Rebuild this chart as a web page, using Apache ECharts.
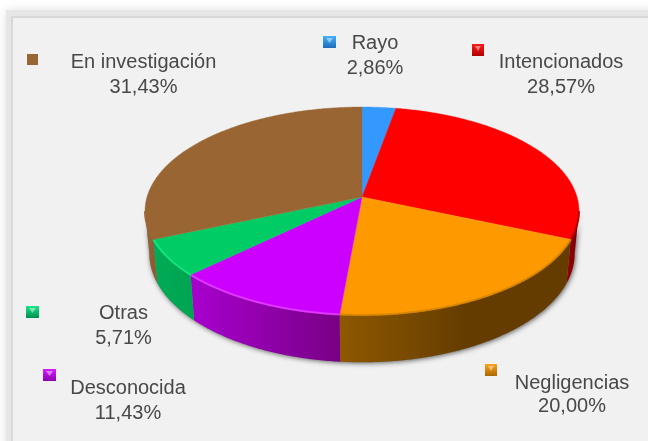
<!DOCTYPE html>
<html>
<head>
<meta charset="utf-8">
<style>html,body{margin:0;padding:0;background:#fff}#c{width:648px;height:441px}</style>
<script src="https://cdn.jsdelivr.net/npm/echarts@6/dist/echarts.min.js"></script>
</head>
<body>
<div id="c"></div>
<script>
var categories = ['Rayo', 'Intencionados', 'Negligencias', 'Desconocida', 'Otras', 'En investigación'];
var values = [2.86, 28.57, 20.00, 11.43, 5.71, 31.43];
var topColors = ['#3399ff', '#ff0000', '#ff9900', '#cc00ff', '#00cc66', '#996633'];
var wallLeft = ['#1f6fc0', '#8f0000', '#8e5800', '#a800cf', '#00ab55', '#93653a'];
var wallRight = ['#1f6fc0', '#7a0000', '#643c00', '#780085', '#00a552', '#8a5e33'];
var rimColors = ['#3399ff', '#b00000', '#d98600', '#e33cff', '#14e684', '#996633'];
var keyColors = [['#45b0ff', '#1d6cb8'], ['#ff1a1a', '#b00000'], ['#ffa31a', '#a96800'], ['#d81aff', '#8a00ad'], ['#1ae68a', '#008f4c'], ['#996633', '#996633']];
var labelPos = [[375, 43, 68], [561, 62, 87], [572, 383, 406], [128, 388, 413], [123.5, 313, 338], [143.5, 62, 87]];
var keyPos = [[323, 36, 13, 12], [472, 44, 12, 12], [485, 364, 12, 12], [43, 369, 13, 12], [26, 306, 13, 12], [27, 54, 11, 11]];

var apex = [362, 197], A = 215, B = 102.1, K = 0.1346;
function topPt(t) {
  var s = Math.sin(t), c = Math.cos(t), w = 1 + K * c;
  return [apex[0] + A * s / w, apex[1] - B * c / w];
}
function botPt(t) {
  var s = Math.sin(t), c = Math.cos(t), w = 1 + K * c;
  return [apex[0] + 0.98 * A * s / w, 239 - 1.045 * B * c / w];
}
var EXT = Math.acos(-K);
function arc(fn, a, b) {
  var n = Math.max(2, Math.ceil(Math.abs(b - a) / 0.01)), p = [];
  for (var i = 0; i <= n; i++) p.push(fn(a + (b - a) * i / n));
  return p;
}
var total = values.reduce(function (s, v) { return s + v; }, 0);
var spans = [], run = 0;
values.forEach(function (v) {
  var a = run / total * 2 * Math.PI; run += v;
  spans.push([a, run / total * 2 * Math.PI]);
});
function gradX(x1, x2, c1, c2) {
  return new echarts.graphic.LinearGradient(x1, 0, x2, 0, [{ offset: 0, color: c1 }, { offset: 1, color: c2 }], true);
}
function fmt(v) { return v.toFixed(2).replace('.', ',') + '%'; }

function renderShadow(params, api) {
  var i = api.value(0), kids = [];
  if (i === 0) {
    var sil = arc(topPt, EXT, 2 * Math.PI - EXT).concat(arc(botPt, 2 * Math.PI - EXT, EXT));
    kids.push({ type: 'polygon', shape: { points: sil }, style: { fill: '#888', shadowBlur: 5, shadowColor: 'rgba(60,60,60,0.8)', shadowOffsetX: 1, shadowOffsetY: 1 } });
  }
  return { type: 'group', children: kids };
}
function renderWalls(params, api) {
  var i = api.value(0), sp = spans[i];
  var a = Math.max(sp[0], EXT), b = Math.min(sp[1], 2 * Math.PI - EXT);
  if (a >= b) return { type: 'group', children: [] };
  var up = arc(topPt, a, b), lo = arc(botPt, b, a), xs = up.map(function (p) { return p[0]; });
  var rgt = Math.max.apply(null, xs), lft = Math.min.apply(null, xs);
  var fill = i === 2 ? gradX(lft, lft + 130, wallLeft[i], wallRight[i]) : gradX(lft, rgt, wallLeft[i], wallRight[i]);
  return { type: 'polygon', shape: { points: up.concat(lo) }, style: { fill: fill } };
}
function renderTops(params, api) {
  var i = api.value(0), sp = spans[i];
  var rim = arc(topPt, sp[0], sp[1]);
  var kids = [{ type: 'polygon', shape: { points: [apex].concat(rim) }, style: { fill: topColors[i], stroke: topColors[i], lineWidth: 0.4 } }];
  var a = Math.max(sp[0], EXT), b = Math.min(sp[1], 2 * Math.PI - EXT);
  if (a < b) {
    kids.push({ type: 'polyline', shape: { points: arc(topPt, a, b) }, style: { fill: null, stroke: rimColors[i], lineWidth: 2, opacity: 0.9 } });
  }
  return { type: 'group', children: kids };
}
function renderLabels(params, api) {
  var i = api.value(0), lp = labelPos[i], kp = keyPos[i], kc = keyColors[i];
  var kids = [
    { type: 'rect', shape: { x: kp[0], y: kp[1], width: kp[2], height: kp[3] },
      style: { fill: new echarts.graphic.LinearGradient(0, 0, 0, 1, [{ offset: 0, color: kc[0] }, { offset: 1, color: kc[1] }]) } },
    { type: 'text', style: { text: categories[i], x: lp[0], y: lp[1], align: 'center', verticalAlign: 'middle', fill: '#484848', font: '20px "Liberation Sans"' } },
    { type: 'text', style: { text: fmt(values[i]), x: lp[0], y: lp[2], align: 'center', verticalAlign: 'middle', fill: '#484848', font: '20px "Liberation Sans"' } }
  ];
  if (i !== 5) {
    kids.push({ type: 'polygon', shape: { points: [[kp[0] + 3, kp[1] + 2], [kp[0] + kp[2] - 3, kp[1] + 2], [kp[0] + kp[2] / 2, kp[1] + 7]] }, style: { fill: '#ffffff', opacity: 0.45 } });
  }
  return { type: 'group', children: kids };
}
var idx = values.map(function (v, i) { return [i]; });
var chart = echarts.init(document.getElementById('c'), null, { renderer: 'canvas' });
chart.setOption({
  animation: false,
  backgroundColor: '#ffffff',
  graphic: [
    { type: 'rect', z: -11, shape: { x: 6, y: 10, width: 700, height: 500 }, style: { fill: '#e6e6e6', shadowBlur: 10, shadowColor: 'rgba(225,225,225,1)' } },
    { type: 'rect', z: -10, shape: { x: 12, y: 17, width: 680, height: 480 }, style: { fill: '#f1f1f1', stroke: '#d8d8d8', lineWidth: 2 } }
  ],
  series: [
    { type: 'custom', coordinateSystem: 'none', data: idx, renderItem: renderShadow, z: 1, silent: true },
    { type: 'custom', coordinateSystem: 'none', data: idx, renderItem: renderWalls, z: 2, silent: true },
    { type: 'custom', coordinateSystem: 'none', data: idx, renderItem: renderTops, z: 3, silent: true },
    { type: 'custom', coordinateSystem: 'none', data: idx, renderItem: renderLabels, z: 4, silent: true }
  ]
});
</script>
</body>
</html>
